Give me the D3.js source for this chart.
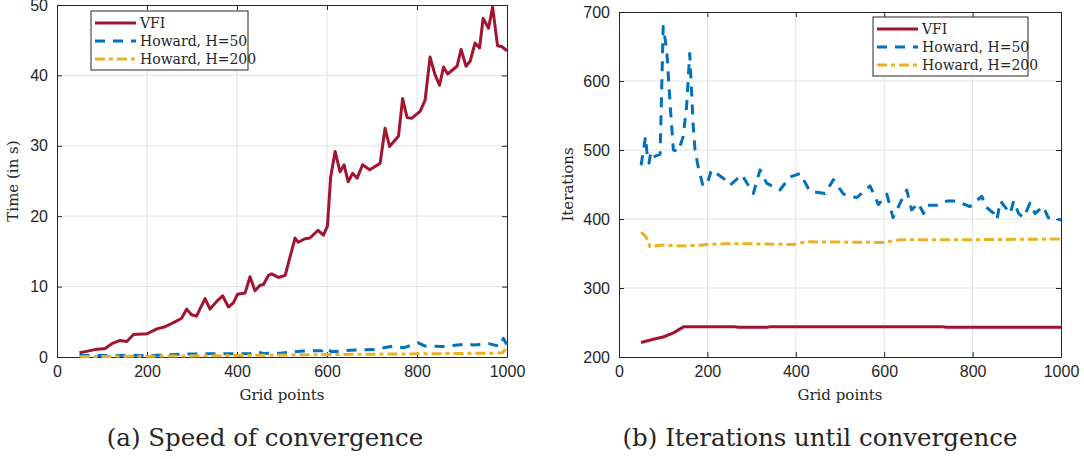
<!DOCTYPE html>
<html>
<head>
<meta charset="utf-8">
<script src="https://cdn.jsdelivr.net/npm/d3@7"></script>
<style>
  body { margin: 0; background: #fff; }
  svg { display: block; }
  .tick text { font-family: "Liberation Sans", Arial, sans-serif; font-size: 16px; fill: #262626; }
  .serif { font-family: "DejaVu Serif", "Liberation Serif", serif; fill: #262626; }
</style>
</head>
<body>
<script>
const width = 1084, height = 459;

// grid points vs. time (in s)
const timeVFI = [[50,0.6],[66,0.8],[84,1.05],[107,1.2],[122,1.9],[140,2.35],[155,2.2],[170,3.2],[200,3.3],[222,4.0],[240,4.3],[262,5.0],[277,5.5],[288,6.8],[299,6.0],[310,5.8],[329,8.3],[340,6.8],[355,7.9],[368,8.7],[381,7.1],[392,7.7],[401,8.9],[418,9.1],[429,11.4],[440,9.4],[451,10.2],[459,10.3],[470,11.6],[477,11.8],[492,11.3],[507,11.6],[529,16.9],[536,16.3],[551,16.8],[562,16.9],[580,18.0],[592,17.3],[601,18.6],[608,25.5],[618,29.2],[629,26.3],[638,27.3],[647,24.9],[657,26.1],[667,25.4],[679,27.3],[695,26.6],[718,27.5],[729,32.5],[739,29.9],[759,31.4],[768,36.7],[778,34.0],[788,33.9],[807,34.9],[818,36.5],[829,42.6],[840,40.1],[850,38.6],[859,41.2],[868,40.2],[889,41.3],[898,43.7],[909,41.3],[918,42.0],[929,44.6],[939,43.9],[947,48.1],[959,46.7],[968,49.7],[979,44.2],[988,44.1],[1000,43.5]];
const timeH50 = [[50,0.2],[100,0.2],[170,0.25],[200,0.2],[277,0.4],[333,0.45],[392,0.45],[430,0.5],[440,0.75],[459,0.5],[496,0.55],[547,0.85],[590,0.9],[599,1.3],[610,0.75],[651,0.95],[703,1.05],[747,1.55],[770,1.3],[803,2.0],[818,1.55],[859,1.5],[911,1.85],[926,1.7],[959,1.9],[985,1.5],[992,2.65],[1000,1.7]];
const timeH200 = [[50,0.05],[150,0.1],[300,0.15],[450,0.25],[600,0.35],[700,0.4],[800,0.45],[900,0.5],[970,0.55],[990,0.6],[995,1.0],[1000,0.6]];

// grid points vs. iterations
const iterVFI = [[50,221],[80,226],[100,229],[123,235],[147,244],[260,244],[270,243],[335,243],[345,244],[730,244],[740,243],[1000,243]];
const iterH50 = [[50,478],[60,519],[64,490],[68,481],[72,497],[78,490],[93,494],[100,679],[108,645],[116,563],[123,500],[134,498],[145,519],[153,563],[160,640],[168,534],[172,500],[179,476],[190,448],[200,452],[209,471],[236,459],[251,449],[278,464],[304,437],[319,471],[334,452],[364,442],[387,461],[410,466],[432,440],[466,437],[485,457],[508,436],[538,431],[568,448],[587,421],[606,436],[620,402],[636,423],[651,442],[662,413],[677,423],[689,408],[696,420],[719,420],[742,426],[764,426],[794,418],[821,433],[829,418],[848,408],[855,399],[863,426],[885,408],[893,426],[904,408],[915,402],[930,423],[941,408],[960,418],[971,402],[998,399],[1000,399]];
const iterH200 = [[50,381],[61,374],[70,360],[92,362],[145,361],[183,362],[198,363],[243,364],[300,364],[394,363],[424,367],[598,366],[636,370],[787,370],[1000,371]];

const xTicks = [0, 200, 400, 600, 800, 1000];
const timeTicks = [0, 10, 20, 30, 40, 50];
const iterTicks = [200, 300, 400, 500, 600, 700];
const legendNames = ["VFI", "Howard, H=50", "Howard, H=200"];
const colors = ["#A2142F", "#0072BD", "#EDB120"];
const dashes = [null, "10,8", "10,4,4,4"];

const svg = d3.select('body').append('svg')
    .attr('width', width).attr('height', height);

function panel(opt) {
    const x = d3.scaleLinear().domain([0, 1000]).range([opt.left, opt.right]);
    const y = d3.scaleLinear().domain(opt.yDomain).range([opt.bottom, opt.top]);
    const g = svg.append('g');

    // grid
    g.append('g').selectAll('line').data(xTicks.slice(1, -1)).enter().append('line')
        .attr('x1', d => x(d)).attr('x2', d => x(d))
        .attr('y1', opt.top).attr('y2', opt.bottom)
        .attr('stroke', '#e3e3e3').attr('stroke-width', 1);
    g.append('g').selectAll('line').data(opt.yTicks.slice(1, -1)).enter().append('line')
        .attr('x1', opt.left).attr('x2', opt.right)
        .attr('y1', d => y(d)).attr('y2', d => y(d))
        .attr('stroke', '#e3e3e3').attr('stroke-width', 1);

    // axes (ticks inside, box on)
    const ax = (gen, tr) => g.append('g').attr('transform', tr).call(gen);
    const styl = sel => {
        sel.select('.domain').attr('stroke', '#262626');
        sel.selectAll('.tick line').attr('stroke', '#262626');
    };
    const fmt = d3.format('d');
    const xb = ax(d3.axisBottom(x).tickValues(xTicks).tickFormat(fmt).tickSizeInner(-5).tickSizeOuter(0).tickPadding(9), `translate(0,${opt.bottom})`);
    const xt = ax(d3.axisTop(x).tickValues(xTicks).tickSizeInner(-5).tickSizeOuter(0).tickFormat(''), `translate(0,${opt.top})`);
    const yl = ax(d3.axisLeft(y).tickValues(opt.yTicks).tickFormat(fmt).tickSizeInner(-5).tickSizeOuter(0).tickPadding(9), `translate(${opt.left},0)`);
    const yr = ax(d3.axisRight(y).tickValues(opt.yTicks).tickSizeInner(-5).tickSizeOuter(0).tickFormat(''), `translate(${opt.right},0)`);
    [xb, xt, yl, yr].forEach(styl);

    // lines
    const line = d3.line().x(d => x(d[0])).y(d => y(d[1]));
    opt.series.forEach((s, i) => {
        g.append('path').datum(s)
            .attr('d', line)
            .attr('fill', 'none')
            .attr('stroke', colors[i])
            .attr('stroke-width', 3)
            .attr('stroke-dasharray', dashes[i])
            .attr('stroke-linejoin', 'round');
    });

    // axis labels
    g.append('text').attr('class', 'serif')
        .attr('x', (opt.left + opt.right) / 2).attr('y', opt.bottom + 43)
        .attr('text-anchor', 'middle').attr('font-size', 15)
        .text('Grid points');
    g.append('text').attr('class', 'serif')
        .attr('transform', `translate(${opt.ylabX},${(opt.top + opt.bottom) / 2}) rotate(-90)`)
        .attr('text-anchor', 'middle').attr('font-size', 15)
        .text(opt.ylabel);

    // caption
    g.append('text').attr('class', 'serif')
        .attr('x', opt.capX).attr('y', 446)
        .attr('text-anchor', 'middle').attr('font-size', 24.5)
        .text(opt.caption);

    // legend
    const lg = g.append('g').attr('transform', `translate(${opt.legX},${opt.legY})`);
    lg.append('rect').attr('width', opt.legW).attr('height', 59)
        .attr('fill', '#fff').attr('stroke', '#262626').attr('stroke-width', 1);
    legendNames.forEach((n, i) => {
        const yy = 12 + i * 18;
        lg.append('line').attr('x1', 4).attr('x2', 45).attr('y1', yy).attr('y2', yy)
            .attr('stroke', colors[i]).attr('stroke-width', 3)
            .attr('stroke-dasharray', dashes[i]);
        lg.append('text').attr('class', 'serif')
            .attr('x', 49).attr('y', yy + 5).attr('font-size', 14)
            .text(n);
    });
}

panel({
    left: 57, right: 507, top: 5, bottom: 357,
    yDomain: [0, 50], yTicks: timeTicks,
    series: [timeVFI, timeH50, timeH200],
    ylabel: 'Time (in s)', ylabX: 18,
    caption: '(a) Speed of convergence', capX: 265,
    legX: 91, legY: 11, legW: 157
});

panel({
    left: 619, right: 1061, top: 12, bottom: 357,
    yDomain: [200, 700], yTicks: iterTicks,
    series: [iterVFI, iterH50, iterH200],
    ylabel: 'Iterations', ylabX: 573,
    caption: '(b) Iterations until convergence', capX: 820,
    legX: 873, legY: 17, legW: 155
});
</script>
</body>
</html>
